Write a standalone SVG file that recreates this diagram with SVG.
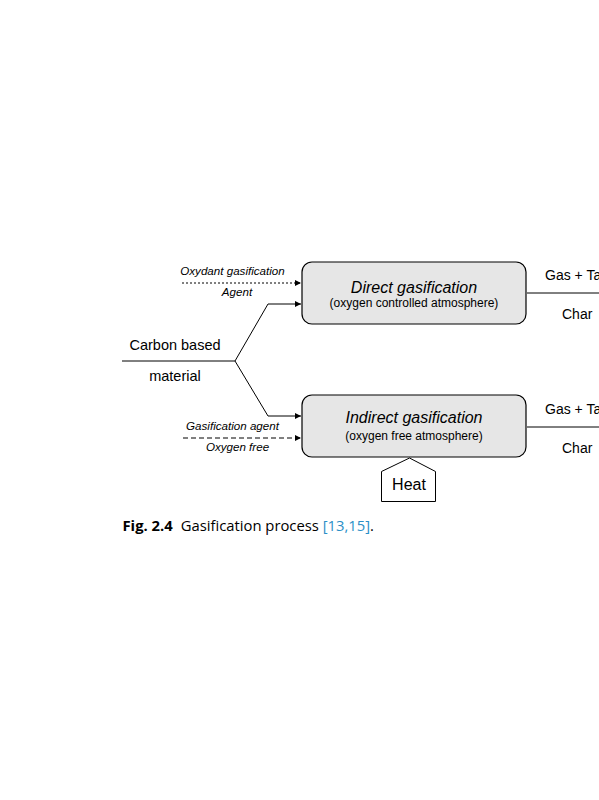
<svg xmlns="http://www.w3.org/2000/svg" width="599" height="800" viewBox="0 0 599 800">
<style>
.t{font-family:"Liberation Sans",Arial,sans-serif;fill:#000}
.it{font-style:italic}
.box{fill:#e6e6e6;stroke:#000;stroke-width:1.2}
.ln{fill:none;stroke:#000;stroke-width:1}
.cap{font-family:"Open Sans","Noto Sans",sans-serif;font-size:14.8px}
</style>
<defs>
<marker id="ah" viewBox="0 0 10 10" refX="10" refY="5" markerWidth="9" markerHeight="6" markerUnits="userSpaceOnUse" orient="auto">
<path d="M0,0 L10,5 L0,10 Z" fill="#000"/>
</marker>
</defs>
<rect width="599" height="800" fill="#fff"/>
<g id="connectors">
<path class="ln" d="M182,283 H301" stroke-width="1.3" stroke-dasharray="2,2" marker-end="url(#ah)"/>
<path class="ln" d="M122,361 H235 L268,304 H301" marker-end="url(#ah)"/>
<path class="ln" d="M235,361 L268,416 H301" marker-end="url(#ah)"/>
<path class="ln" d="M183,438 H301" stroke-width="2" stroke-dasharray="5,3" marker-end="url(#ah)"/>
<path class="ln" d="M527,293 H599" stroke-width="1.5"/>
<path class="ln" d="M527,427 H599" stroke-width="1.5"/>
</g>
<g id="labels">
<text class="t it" x="232.5" y="275" font-size="11.6" text-anchor="middle">Oxydant gasification</text>
<text class="t it" x="237" y="296" font-size="11.6" text-anchor="middle">Agent</text>
<text class="t" x="175" y="350" font-size="14.5" text-anchor="middle">Carbon based</text>
<text class="t" x="175" y="381" font-size="14.5" text-anchor="middle">material</text>
<text class="t it" x="232.5" y="430" font-size="11.6" text-anchor="middle">Gasification agent</text>
<text class="t it" x="237.5" y="451" font-size="11.6" text-anchor="middle">Oxygen free</text>
<text class="t" x="545" y="280" font-size="14">Gas + Tar</text>
<text class="t" x="562" y="319" font-size="14">Char</text>
<text class="t" x="545" y="414" font-size="14">Gas + Tar</text>
<text class="t" x="562" y="453" font-size="14">Char</text>
</g>
<g id="direct">
<rect class="box" x="302" y="262" width="224" height="62" rx="10"/>
<text class="t it" x="414" y="293" font-size="16" text-anchor="middle">Direct gasification</text>
<text class="t" x="414" y="306.5" font-size="12" text-anchor="middle">(oxygen controlled atmosphere)</text>
</g>
<g id="indirect">
<rect class="box" x="302" y="395" width="224" height="62" rx="10"/>
<text class="t it" x="414" y="423" font-size="16" text-anchor="middle">Indirect gasification</text>
<text class="t" x="414" y="440" font-size="12" text-anchor="middle">(oxygen free atmosphere)</text>
</g>
<g id="heat">
<polygon points="381.5,501.5 381.5,471.5 409.5,458 435.5,471.5 435.5,501.5" fill="#fff" stroke="#000" stroke-width="1"/>
<text class="t" x="409" y="490" font-size="16" text-anchor="middle">Heat</text>
</g>
<g id="caption">
<text class="cap" x="122.5" y="531"><tspan font-weight="bold">Fig. 2.4</tspan><tspan dx="8">Gasification process </tspan><tspan fill="#2a8fc7">[13,15]</tspan><tspan>.</tspan></text>
</g>
</svg>
